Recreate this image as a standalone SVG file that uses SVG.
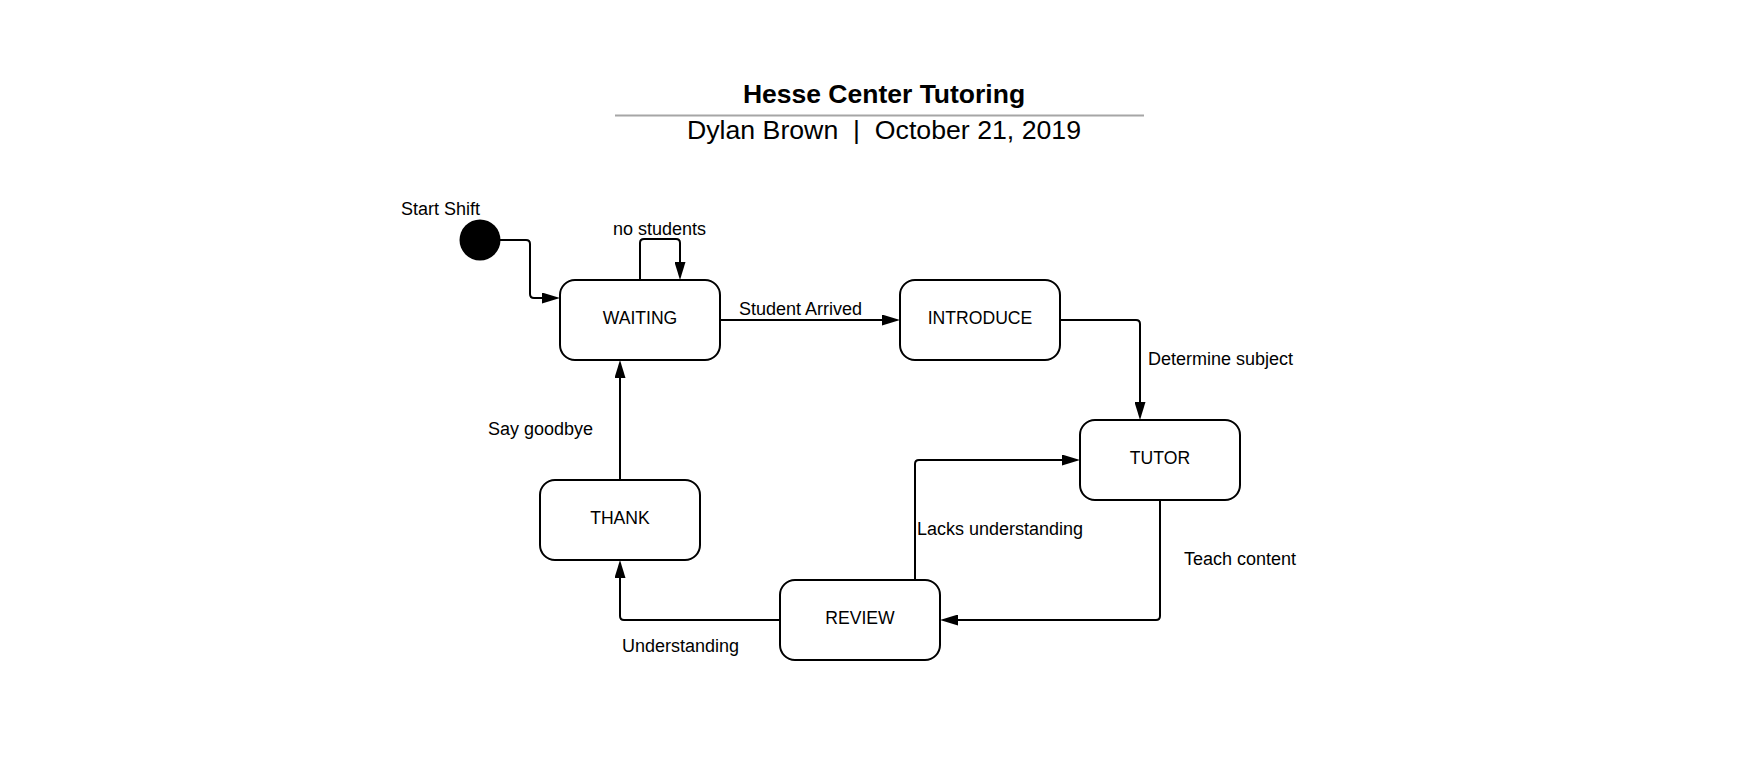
<svg xmlns="http://www.w3.org/2000/svg" width="1760" height="762" viewBox="0 0 1760 762">
<style>
text{font-family:"Liberation Sans",Arial,sans-serif;fill:#000}
.lbl{font-size:18px}
.nt{font-size:17.6px;text-anchor:middle}
.box{fill:#fff;stroke:#000;stroke-width:2}
.edge{fill:none;stroke:#000;stroke-width:2}
</style>
<defs>
<marker id="arr" viewBox="0 0 18 11" refX="12" refY="5.5" markerWidth="18" markerHeight="11" markerUnits="userSpaceOnUse" orient="auto">
<path d="M0,0 L18,5.5 L0,11 z" fill="#000"/>
</marker>
</defs>
<rect width="1760" height="762" fill="#fff"/>
<g id="title">
<text x="884" y="102.5" font-size="26.5" font-weight="bold" text-anchor="middle">Hesse Center Tutoring</text>
<line x1="615" y1="115.5" x2="1144" y2="115.5" stroke="#a6a6a6" stroke-width="2"/>
<text x="884" y="139" font-size="26.7" text-anchor="middle" xml:space="preserve">Dylan Brown  |  October 21, 2019</text>
</g>
<g id="connectors">
<path class="edge" d="M500,240 H526 Q530,240 530,244 V294 Q530,298 534,298 H554" marker-end="url(#arr)"/>
<path class="edge" d="M640,280 V243 Q640,239 644,239 H676 Q680,239 680,243 V274" marker-end="url(#arr)"/>
<path class="edge" d="M720,320 H894" marker-end="url(#arr)"/>
<path class="edge" d="M1060,320 H1136 Q1140,320 1140,324 V414" marker-end="url(#arr)"/>
<path class="edge" d="M1160,500 V616 Q1160,620 1156,620 H946" marker-end="url(#arr)"/>
<path class="edge" d="M915,580 V464 Q915,460 919,460 H1074" marker-end="url(#arr)"/>
<path class="edge" d="M780,620 H624 Q620,620 620,616 V566" marker-end="url(#arr)"/>
<path class="edge" d="M620,480 V366" marker-end="url(#arr)"/>
<text class="lbl" x="613" y="235">no students</text>
<text class="lbl" x="739" y="315">Student Arrived</text>
<text class="lbl" x="1148" y="365">Determine subject</text>
<text class="lbl" x="917" y="535">Lacks understanding</text>
<text class="lbl" x="1184" y="565">Teach content</text>
<text class="lbl" x="622" y="652">Understanding</text>
<text class="lbl" x="488" y="435">Say goodbye</text>
</g>
<g id="start">
<circle cx="480" cy="240" r="20.5" fill="#000"/>
<text class="lbl" x="401" y="215">Start Shift</text>
</g>
<g id="waiting">
<rect class="box" x="560" y="280" width="160" height="80" rx="15"/>
<text class="nt" x="640" y="323.7">WAITING</text>
</g>
<g id="introduce">
<rect class="box" x="900" y="280" width="160" height="80" rx="15"/>
<text class="nt" x="980" y="323.7">INTRODUCE</text>
</g>
<g id="tutor">
<rect class="box" x="1080" y="420" width="160" height="80" rx="15"/>
<text class="nt" x="1160" y="463.7">TUTOR</text>
</g>
<g id="thank">
<rect class="box" x="540" y="480" width="160" height="80" rx="15"/>
<text class="nt" x="620" y="523.7">THANK</text>
</g>
<g id="review">
<rect class="box" x="780" y="580" width="160" height="80" rx="15"/>
<text class="nt" x="860" y="623.7">REVIEW</text>
</g>
</svg>
